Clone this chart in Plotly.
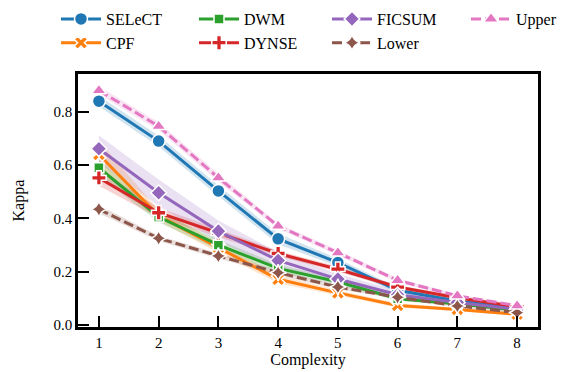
import plotly.graph_objects as go

complexity = [1, 2, 3, 4, 5, 6, 7, 8]

select_k = [0.840, 0.690, 0.503, 0.323, 0.234, 0.130, 0.090, 0.062]
cpf_k    = [0.640, 0.410, 0.290, 0.171, 0.120, 0.073, 0.058, 0.040]
dwm_k    = [0.590, 0.405, 0.300, 0.212, 0.162, 0.098, 0.079, 0.055]
dynse_k  = [0.552, 0.421, 0.345, 0.268, 0.209, 0.142, 0.102, 0.068]
ficsum_k = [0.661, 0.496, 0.352, 0.242, 0.172, 0.113, 0.084, 0.058]
lower_k  = [0.434, 0.325, 0.259, 0.196, 0.142, 0.104, 0.071, 0.046]
upper_k  = [0.880, 0.746, 0.552, 0.371, 0.271, 0.167, 0.109, 0.072]

select_ci = [0.020, 0.020, 0.020, 0.020, 0.015, 0.010, 0.008, 0.005]
cpf_ci    = [0.050, 0.020, 0.020, 0.015, 0.010, 0.008, 0.006, 0.005]
dwm_ci    = [0.030, 0.020, 0.020, 0.015, 0.010, 0.008, 0.006, 0.005]
dynse_ci  = [0.030, 0.020, 0.015, 0.010, 0.010, 0.008, 0.006, 0.005]
ficsum_ci = [0.050, 0.050, 0.040, 0.030, 0.020, 0.015, 0.010, 0.008]
lower_ci  = [0.015, 0.010, 0.010, 0.010, 0.008, 0.006, 0.005, 0.004]
upper_ci  = [0.015, 0.015, 0.015, 0.010, 0.010, 0.008, 0.006, 0.005]

y_ticks = [0.0, 0.2, 0.4, 0.6, 0.8]

series = [
    # name, values, ci, color, symbol, size, dash, legend column
    ("SELeCT", select_k, select_ci, (31, 119, 180), "circle", 13, "solid", "legend"),
    ("CPF", cpf_k, cpf_ci, (255, 127, 14), "x", 12, "solid", "legend"),
    ("DWM", dwm_k, dwm_ci, (44, 160, 44), "square", 10, "solid", "legend2"),
    ("DYNSE", dynse_k, dynse_ci, (214, 39, 40), "cross", 12, "solid", "legend2"),
    ("FICSUM", ficsum_k, ficsum_ci, (148, 103, 189), "diamond", 12, "solid", "legend3"),
    ("Lower", lower_k, lower_ci, (140, 86, 75), "star-diamond", 12, "10px,4px", "legend3"),
    ("Upper", upper_k, upper_ci, (227, 119, 194), "triangle-up", 13, "10px,4px", "legend4"),
]

SERIF = "Liberation Serif, Times New Roman, serif"

fig = go.Figure()

for name, vals, ci, col, sym, size, dash, leg in series:
    hi = [v + c for v, c in zip(vals, ci)]
    lo = [v - c for v, c in zip(vals, ci)]
    fig.add_trace(go.Scatter(x=complexity, y=hi, mode="lines", line=dict(width=0),
                             showlegend=False, hoverinfo="skip"))
    fig.add_trace(go.Scatter(x=complexity, y=lo, mode="lines", line=dict(width=0),
                             fill="tonexty", fillcolor="rgba(%d,%d,%d,0.2)" % col,
                             showlegend=False, hoverinfo="skip"))

for name, vals, ci, col, sym, size, dash, leg in series:
    c = "rgb(%d,%d,%d)" % col
    fig.add_trace(go.Scatter(
        x=complexity, y=vals, name=name, mode="lines+markers",
        line=dict(color=c, width=3, dash=dash),
        marker=dict(symbol=sym, size=size, color=c, line=dict(color="white", width=1.5)),
        legend=leg,
    ))

axis_common = dict(
    showline=True, linecolor="black", linewidth=2.5, mirror=True,
    ticks="inside", ticklen=11, tickwidth=2, tickcolor="black",
    showgrid=False, zeroline=False, automargin=False,
    tickfont=dict(family=SERIF, size=15, color="black"),
)


def make_legend(px_x, px_y_mid):
    return dict(orientation="v", x=px_x / 570, xref="container", xanchor="left",
                y=1 - px_y_mid / 372, yref="container", yanchor="middle",
                font=dict(family=SERIF, size=16, color="black"),
                bgcolor="rgba(0,0,0,0)", traceorder="normal",
                tracegroupgap=0, itemwidth=40)


fig.update_layout(
    width=570, height=372,
    margin=dict(l=70, r=40, t=66, b=53, autoexpand=False),
    plot_bgcolor="white", paper_bgcolor="white",
    font=dict(family=SERIF, size=15, color="black"),
    xaxis=dict(range=[0.65, 8.35], tickvals=complexity,
               title=dict(text="Complexity", font=dict(family=SERIF, size=16), standoff=4),
               **axis_common),
    yaxis=dict(range=[-0.008, 0.942], tickvals=y_ticks, tickformat=".1f",
               ticksuffix="\u00a0\u00a0\u00a0",
               **axis_common),
    legend=make_legend(48, 23),
    legend2=make_legend(186, 23),
    legend3=make_legend(319, 23),
    legend4=make_legend(458, 11),
    showlegend=True,
    annotations=[dict(text="Kappa", textangle=-90, xref="paper", yref="paper",
                      x=(10 - 70) / 460, y=0.5, xanchor="center", yanchor="middle",
                      showarrow=False, font=dict(family=SERIF, size=16, color="black"))],
)

fig.write_html("out.html")
